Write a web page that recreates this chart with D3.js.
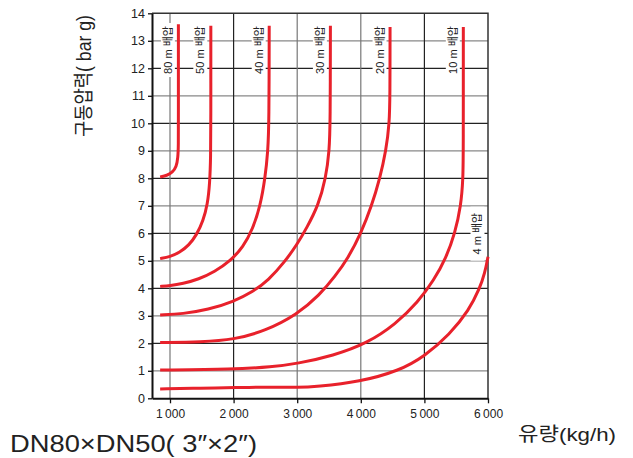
<!DOCTYPE html>
<html>
<head>
<meta charset="utf-8">
<script src="https://cdn.jsdelivr.net/npm/d3@7"></script>
<style>
  body { margin: 0; background: #fff; }
  text { font-family: "Liberation Sans", Arial, "Noto Sans CJK KR", sans-serif; }
</style>
</head>
<body>
<div id="chart"></div>
<script>
// data: flow (kg/h), pressure (bar g) for each back-pressure line
var xTicks = [1000, 2000, 3000, 4000, 5000, 6000];
var xTickLabels = ["1\u2009000", "2\u2009000", "3\u2009000", "4\u2009000", "5\u2009000", "6\u2009000"];
var yTicks = [0, 1, 2, 3, 4, 5, 6, 7, 8, 9, 10, 11, 12, 13, 14];

var seriesNames = ["80 m 배압", "50 m 배압", "40 m 배압", "30 m 배압", "20 m 배압", "10 m 배압", "4 m 배압"];

var bp80 = [[845, 8.05], [950, 8.1], [1040, 8.22], [1100, 8.42], [1125, 8.75], [1132, 9.2], [1132, 10], [1132, 13.6]];
var bp50 = [[845, 5.08], [1000, 5.15], [1150, 5.3], [1300, 5.57], [1420, 5.95], [1520, 6.45], [1590, 7.05], [1625, 7.8], [1640, 8.8], [1642, 10], [1642, 13.55]];
var bp40 = [[845, 4.07], [1000, 4.09], [1200, 4.17], [1450, 4.33], [1700, 4.6], [1950, 5.0], [2150, 5.5], [2300, 6.15], [2420, 7.0], [2495, 8], [2540, 9], [2557, 10], [2560, 13.55]];
var bp30 = [[845, 3.03], [1200, 3.07], [1600, 3.22], [2000, 3.52], [2300, 3.87], [2550, 4.3], [2800, 4.95], [3000, 5.6], [3150, 6.2], [3330, 7], [3450, 8], [3505, 9], [3520, 10], [3522, 13.55]];
var bp20 = [[845, 2.03], [1500, 2.05], [2000, 2.13], [2500, 2.45], [3000, 3.05], [3350, 3.75], [3600, 4.45], [3800, 5.1], [4003, 6], [4171, 7], [4300, 8], [4396, 9], [4450, 10], [4459, 11], [4460, 13.5]];
var bp10 = [[845, 1.03], [2000, 1.05], [2600, 1.14], [3000, 1.26], [3566, 1.55], [4100, 2.0], [4550, 2.7], [4900, 3.5], [5150, 4.3], [5340, 5.1], [5480, 6], [5575, 7], [5608, 8], [5612, 9], [5612, 13.5]];
var bp4 = [[845, 0.34], [1500, 0.37], [2000, 0.39], [2700, 0.41], [3000, 0.39], [3300, 0.42], [3987, 0.6], [4600, 1.0], [5000, 1.52], [5400, 2.33], [5700, 3.2], [5870, 4.0], [5950, 4.55], [6000, 5.15]];

var allSeries = [bp80, bp50, bp40, bp30, bp20, bp10, bp4];

var width = 633, height = 458;
var pLeft = 152, pRight = 488, pTop = 13.3, pBottom = 398.3;

var svg = d3.select("#chart")
	.append("svg")
	.attr("width", width)
	.attr("height", height);

var x = d3.scaleLinear().domain([717, 6000]).range([pLeft, pRight]);
var y = d3.scaleLinear().domain([0, 14]).range([pBottom, pTop]);

// grid
var grid = svg.append("g");
grid.selectAll("line.h")
	.data(yTicks.filter(function(d) { return d > 0 && d < 14; }))
	.enter().append("line")
	.attr("x1", pLeft).attr("x2", pRight)
	.attr("y1", function(d) { return y(d); })
	.attr("y2", function(d) { return y(d); })
	.attr("stroke", function(d) { return d % 2 == 0 ? "#222" : "#888"; })
	.attr("stroke-width", 1.2);
grid.selectAll("line.v")
	.data(xTicks.filter(function(d) { return d < 6000; }))
	.enter().append("line")
	.attr("y1", pTop).attr("y2", pBottom)
	.attr("x1", function(d) { return x(d); })
	.attr("x2", function(d) { return x(d); })
	.attr("stroke", function(d) { return (d == 2000 || d == 5000) ? "#222" : "#777"; })
	.attr("stroke-width", 1.2);

// frame
svg.append("path")
	.attr("d", "M" + pLeft + "," + pTop + "H" + pRight + "V" + pBottom)
	.attr("fill", "none")
	.attr("stroke", "#333")
	.attr("stroke-width", 1.5);

// axes
var yAxis = svg.append("g")
	.attr("transform", "translate(" + pLeft + ",0)")
	.call(d3.axisLeft(y).tickValues(yTicks).tickSize(4).tickSizeOuter(0).tickPadding(3));
var xAxis = svg.append("g")
	.attr("transform", "translate(0," + pBottom + ")")
	.call(d3.axisBottom(x).tickValues(xTicks).tickSize(5).tickSizeOuter(0).tickPadding(6)
		.tickFormat(function(d, i) { return xTickLabels[i]; }));
[xAxis, yAxis].forEach(function(a) {
	a.select(".domain").attr("stroke", "#111").attr("stroke-width", 2);
	a.selectAll(".tick line").attr("stroke", "#111").attr("stroke-width", 1.3);
	a.selectAll("text").attr("fill", "#222").style("font-size", "12px")
		.style("font-family", "'Liberation Sans', Arial, sans-serif");
});
yAxis.selectAll("text").style("font-size", "12.5px");

// curve labels with white box behind
var labels = svg.append("g");
allSeries.forEach(function(s, i) {
	var last = s[s.length - 1];
	var cx = x(last[0]) - 10.5;
	var cy = (i == 6) ? y(last[1]) - 23 : 50;
	var g = labels.append("g").attr("transform", "translate(" + cx + "," + cy + ") rotate(-90)");
	g.append("rect")
		.attr("x", -27).attr("y", -7)
		.attr("width", 54).attr("height", 14)
		.attr("fill", "#fff");
	g.append("text")
		.attr("text-anchor", "middle")
		.attr("dy", "0.36em")
		.style("font-size", "11px")
		.attr("fill", "#222")
		.text(seriesNames[i]);
});

// curves
var line = d3.line()
	.x(function(d) { return x(d[0]); })
	.y(function(d) { return y(d[1]); })
	.curve(d3.curveBasis);

svg.append("g")
	.selectAll("path")
	.data(allSeries)
	.enter().append("path")
	.attr("d", line)
	.attr("fill", "none")
	.attr("stroke", "#e8212b")
	.attr("stroke-width", 3)
	.attr("stroke-linecap", "butt");

// titles
svg.append("text")
	.attr("transform", "translate(91,76) rotate(-90)")
	.attr("text-anchor", "middle")
	.attr("textLength", 122)
	.attr("lengthAdjust", "spacingAndGlyphs")
	.style("font-size", "20px")
	.attr("fill", "#222")
	.text("구동압력( bar g)");

svg.append("text")
	.attr("x", 518)
	.attr("y", 441)
	.attr("textLength", 98)
	.attr("lengthAdjust", "spacingAndGlyphs")
	.style("font-size", "19px")
	.attr("fill", "#222")
	.text("유량(kg/h)");

svg.append("text")
	.attr("x", 10)
	.attr("y", 452)
	.attr("textLength", 247)
	.attr("lengthAdjust", "spacingAndGlyphs")
	.style("font-size", "24px")
	.attr("fill", "#222")
	.text("DN80\u00d7DN50( 3\u2033\u00d72\u2033)");
</script>
</body>
</html>
